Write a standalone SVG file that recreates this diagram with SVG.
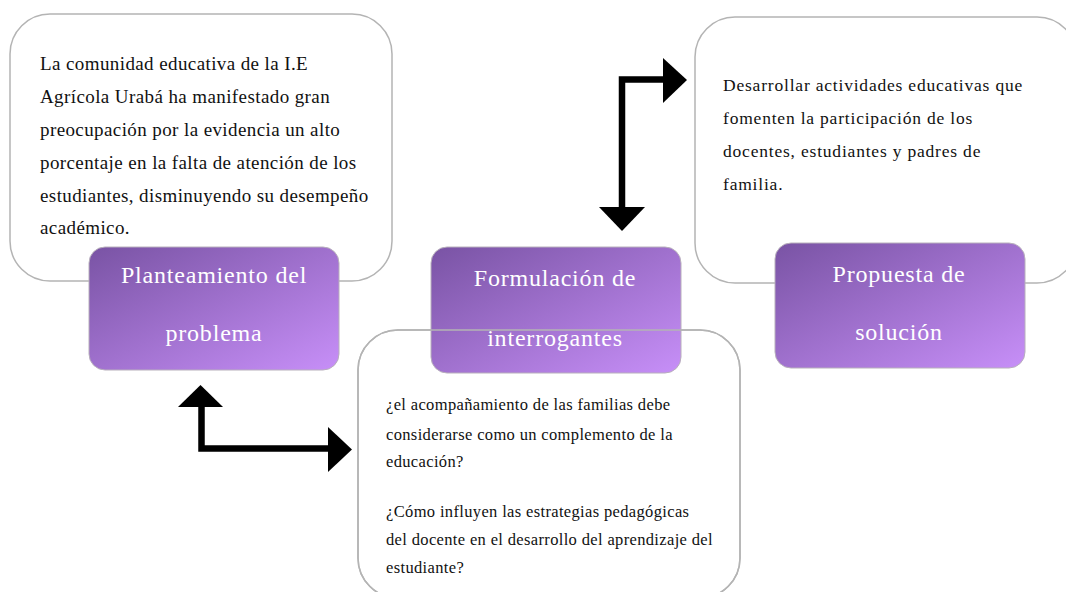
<svg xmlns="http://www.w3.org/2000/svg" width="1066" height="592" viewBox="0 0 1066 592">
<defs>
<linearGradient id="pg" x1="0" y1="0" x2="1" y2="1">
<stop offset="0" stop-color="#7953a4"/>
<stop offset="1" stop-color="#c78ff8"/>
</linearGradient>
<style>
.wbox{fill:#fff;stroke:#b4b4b4;stroke-width:1.5}
.wline{fill:none;stroke:#b4b4b4;stroke-width:1.5}
.pbox{fill:url(#pg);stroke:#b8b0bc;stroke-width:1}
.body{font-family:"Liberation Serif","Times New Roman",serif;fill:#111}
.b1{font-size:19px;letter-spacing:0.4px}
.b2{font-size:16.5px;letter-spacing:0.35px}
.b3{font-size:17.5px;letter-spacing:0.8px}
.lbl{font-family:"Liberation Serif","Times New Roman",serif;font-size:24px;fill:#fff;text-anchor:middle;letter-spacing:0.8px}
.shaft{fill:none;stroke:#000;stroke-width:6.5;stroke-linejoin:miter}
.head{fill:#000}
</style>
</defs>
<rect width="1066" height="592" fill="#fff"/>

<g id="node-problema">
<rect class="wbox" x="10" y="14" width="382" height="267" rx="40" ry="40"/>
<text class="body b1"><tspan x="40" y="70">La comunidad educativa de la I.E</tspan><tspan x="40" y="103">Agrícola Urabá ha manifestado gran</tspan><tspan x="40" y="136">preocupación por la evidencia un alto</tspan><tspan x="40" y="169">porcentaje en la falta de atención de los</tspan><tspan x="40" y="202">estudiantes, disminuyendo su desempeño</tspan><tspan x="40" y="234">académico.</tspan></text>
<rect class="pbox" x="89" y="247" width="250" height="123" rx="16" ry="16"/>
<text class="lbl" x="214" y="283">Planteamiento del</text>
<text class="lbl" x="214" y="341">problema</text>
</g>

<g id="node-solucion">
<rect class="wbox" x="695" y="17" width="382" height="266" rx="40" ry="40"/>
<text class="body b3"><tspan x="723" y="91">Desarrollar actividades educativas que</tspan><tspan x="723" y="124">fomenten la participación de los</tspan><tspan x="723" y="157">docentes, estudiantes y padres de</tspan><tspan x="723" y="190">familia.</tspan></text>
<rect class="pbox" x="775" y="243" width="250" height="125" rx="16" ry="16"/>
<text class="lbl" x="899" y="282">Propuesta de</text>
<text class="lbl" x="899" y="340">solución</text>
</g>

<g id="node-interrogantes">
<rect class="wbox" x="358" y="330" width="382" height="268" rx="40" ry="40"/>
<rect class="pbox" x="431" y="247" width="250" height="126" rx="16" ry="16"/>
<text class="lbl" x="555" y="286">Formulación de</text>
<text class="lbl" x="555" y="346">interrogantes</text>
<rect class="wline" x="358" y="330" width="382" height="268" rx="40" ry="40"/>
<text class="body b2"><tspan x="386" y="410">¿el acompañamiento de las familias debe</tspan><tspan x="386" y="440">considerarse como un complemento de la</tspan><tspan x="386" y="467">educación?</tspan><tspan x="386" y="517">¿Cómo influyen las estrategias pedagógicas</tspan><tspan x="386" y="545">del docente en el desarrollo del aprendizaje del</tspan><tspan x="386" y="573">estudiante?</tspan></text>
</g>

<g id="connectors">
<path class="shaft" d="M622,209 V79.5 H665"/>
<polygon class="head" points="663,58 687,80 663,103"/>
<polygon class="head" points="599,207 645,207 622,231"/>
<path class="shaft" d="M201.5,405 V448.5 H330"/>
<polygon class="head" points="178,407 223,407 200.5,385"/>
<polygon class="head" points="328,427 352,449.5 328,472"/>
</g>
</svg>
